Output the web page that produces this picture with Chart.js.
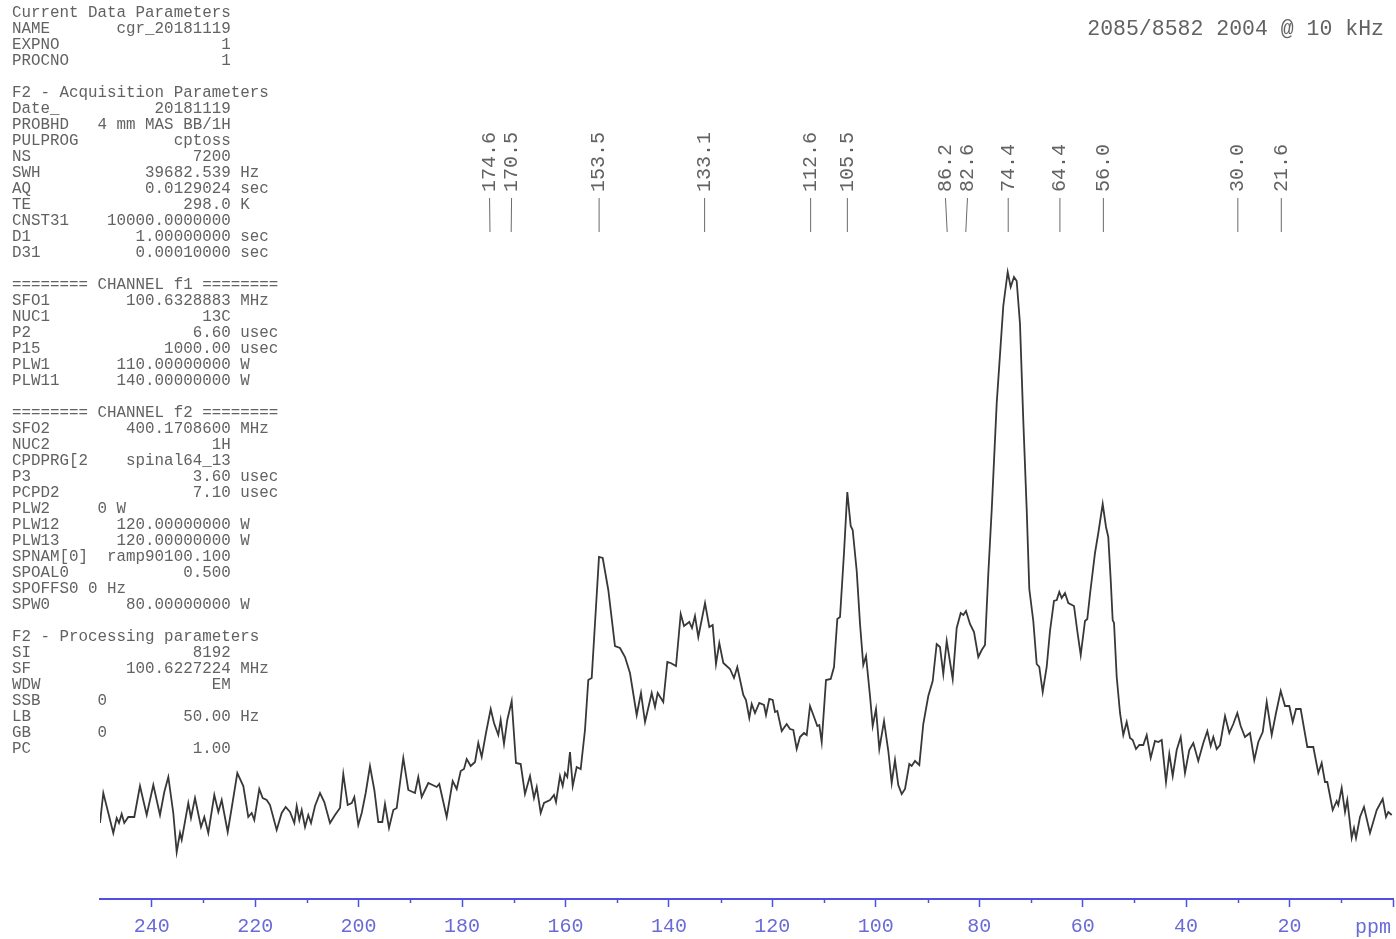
<!DOCTYPE html>
<html>
<head>
<meta charset="utf-8">
<script src="https://cdn.jsdelivr.net/npm/chart.js@4/dist/chart.umd.min.js"></script>
<style>
  html, body { margin: 0; padding: 0; background: #fff; overflow: hidden; }
  canvas { display: block; }
</style>
</head>
<body>
<canvas id="nmr_chart" width="1396" height="939" style="width:1396px;height:939px"></canvas>
<script>
// chemical shift (ppm) and intensity (arbitrary units)
const ppm = [
	250.00,249.36,248.39,247.43,246.77,246.33,245.81,245.30,244.53,243.37,
	242.27,240.97,239.69,238.40,237.57,236.79,235.83,235.17,234.53,234.20,
	232.93,232.41,231.63,230.47,229.83,229.06,227.90,227.12,226.47,225.31,
	224.54,223.45,222.29,221.33,220.67,220.17,219.20,218.54,217.77,217.13,
	215.84,214.87,214.10,213.26,212.43,211.97,211.46,211.00,210.36,209.73,
	209.20,208.43,207.46,206.63,205.53,204.56,203.60,202.96,202.11,201.33,
	200.83,200.06,199.40,198.63,197.80,196.96,196.19,195.42,194.90,194.12,
	193.29,192.63,191.36,190.39,189.10,188.46,187.80,186.52,
	184.90,184.40,182.97,181.81,181.03,180.26,179.62,179.10,178.33,177.49,
	176.86,176.20,175.37,174.46,173.82,172.99,172.53,171.89,171.25,170.40,
	169.57,168.66,167.83,166.86,166.09,165.56,164.79,164.15,162.99,162.22,
	161.83,161.06,160.54,160.09,159.65,159.13,158.60,157.83,157.06,156.23,
	155.59,154.93,154.29,153.52,152.80,151.72,150.43,149.46,148.49,147.53,
	146.23,145.40,144.62,143.33,142.69,142.17,141.09,140.31,139.66,138.63,
	137.72,137.08,136.06,135.54,134.96,134.32,133.02,132.19,131.54,130.90,
	130.26,129.48,128.19,127.42,126.78,125.62,125.10,124.46,123.99,123.36,
	122.53,
	121.62,121.23,120.59,119.93,119.49,119.04,118.19,117.23,116.59,115.95,
	115.29,114.66,113.88,113.36,112.72,112.08,111.31,110.92,110.46,109.63,
	108.72,108.08,107.44,106.92,106.15,105.51,104.85,104.47,103.69,103.05,
	102.42,101.89,101.12,100.60,99.96,99.32,98.41,97.58,96.93,96.29,
	95.65,94.99,94.35,93.52,93.06,92.42,91.59,90.82,89.85,89.00,
	88.23,87.59,86.95,86.29,85.13,84.36,83.58,83.08,82.56,81.79,
	81.01,80.18,79.52,78.89,78.25,77.59,76.62,75.35,74.50,73.92,
	73.28,72.76,72.12,71.48,70.82,70.32,69.55,68.89,68.39,67.73,
	66.96,66.32,65.55,65.02,64.52,64.06,63.42,62.78,61.68,61.04,
	60.38,59.55,59.11,58.58,
	57.62,56.98,56.13,55.49,55.05,54.58,54.20,53.94,53.42,52.78,
	52.15,51.49,50.85,50.33,49.69,49.05,48.28,47.62,46.85,46.02,
	45.38,44.72,43.89,43.25,42.59,41.82,41.05,40.22,39.39,38.61,
	37.65,36.68,35.90,35.25,34.74,34.09,33.45,32.48,31.65,30.88,
	30.10,29.45,28.62,27.65,26.82,26.04,25.19,24.42,23.45,22.62,
	21.71,20.88,20.05,19.39,18.75,17.85,16.57,15.41,14.44,13.79,
	13.15,12.70,11.66,10.89,10.58,9.92,9.28,8.84,7.99,7.54,
	7.15,6.38,5.61,4.45,3.15,1.99,1.35,0.91,0.25
];
const intensity = [
	37,67,47,27,42,37,46,37,43,43,
	74,45,75,45,68,83,47,8,27,20,
	57,42,62,33,43,27,65,48,60,28,
	52,87,74,43,47,40,71,62,60,55,
	30,47,53,48,37,54,40,50,33,45,
	37,54,67,58,37,45,52,86,55,57,
	63,35,47,67,94,70,38,38,56,32,
	50,52,102,70,67,83,63,77,
	73,76,43,79,71,89,91,101,94,98,
	117,103,127,151,137,125,140,116,140,159,
	97,96,66,84,62,73,47,57,60,65,
	58,84,74,87,83,108,74,93,91,130,
	180,182,237,303,302,270,214,212,203,187,
	145,167,138,167,153,167,158,198,197,194,
	246,234,238,232,244,223,257,233,235,196,
	217,197,191,182,193,165,160,142,156,147,
	157,
	155,145,161,160,148,149,129,136,131,130,
	111,123,127,125,154,145,134,135,118,180,
	181,193,241,243,307,368,334,330,289,236,
	195,204,164,134,151,111,139,109,77,100,
	75,66,71,96,94,99,95,136,164,179,
	216,213,186,219,181,232,247,245,249,236,
	228,203,210,215,286,350,457,554,588,573,
	583,579,536,439,350,271,239,196,193,168,
	193,229,259,260,268,262,267,257,254,229,
	205,239,241,266,
	307,327,356,333,323,280,240,237,183,147,
	125,138,122,120,111,115,115,125,102,119,
	118,120,78,106,84,110,123,87,110,117,
	99,117,129,114,123,111,115,144,127,136,
	147,134,123,127,100,118,128,158,125,147,
	169,154,154,138,151,151,113,113,87,97,
	78,78,50,59,55,72,48,60,22,32,
	22,43,53,27,50,61,43,48,45
];

// picked peaks
const peakLabels = [174.6, 170.5, 153.5, 133.1, 112.6, 105.5, 86.2, 82.6, 74.4, 64.4, 56.0, 30.0, 21.6];

// labelled ticks of the ppm axis
const majorTicks = [240, 220, 200, 180, 160, 140, 120, 100, 80, 60, 40, 20];

const stamp = '2085/8582 2004 @ 10 kHz';

function row(name, value, unit) {
	return name + value.padStart(23 - name.length) + (unit ? ' ' + unit : '');
}

const paramLines = [
	'Current Data Parameters',
	row('NAME', 'cgr_20181119'),
	row('EXPNO', '1'),
	row('PROCNO', '1'),
	'',
	'F2 - Acquisition Parameters',
	row('Date_', '20181119'),
	row('PROBHD', '4 mm MAS BB/1H'),
	row('PULPROG', 'cptoss'),
	row('NS', '7200'),
	row('SWH', '39682.539', 'Hz'),
	row('AQ', '0.0129024', 'sec'),
	row('TE', '298.0', 'K'),
	row('CNST31', '10000.0000000'),
	row('D1', '1.00000000', 'sec'),
	row('D31', '0.00010000', 'sec'),
	'',
	'======== CHANNEL f1 ========',
	row('SFO1', '100.6328883', 'MHz'),
	row('NUC1', '13C'),
	row('P2', '6.60', 'usec'),
	row('P15', '1000.00', 'usec'),
	row('PLW1', '110.00000000', 'W'),
	row('PLW11', '140.00000000', 'W'),
	'',
	'======== CHANNEL f2 ========',
	row('SFO2', '400.1708600', 'MHz'),
	row('NUC2', '1H'),
	row('CPDPRG[2', 'spinal64_13'),
	row('P3', '3.60', 'usec'),
	row('PCPD2', '7.10', 'usec'),
	'PLW2     0 W',
	row('PLW12', '120.00000000', 'W'),
	row('PLW13', '120.00000000', 'W'),
	row('SPNAM[0]', 'ramp90100.100'),
	row('SPOAL0', '0.500'),
	'SPOFFS0 0 Hz',
	row('SPW0', '80.00000000', 'W'),
	'',
	'F2 - Processing parameters',
	row('SI', '8192'),
	row('SF', '100.6227224', 'MHz'),
	row('WDW', 'EM'),
	'SSB      0',
	row('LB', '50.00', 'Hz'),
	'GB       0',
	row('PC', '1.00')
];

const MONO = "'Liberation Mono', 'DejaVu Sans Mono', monospace";
const axisBlue = '#4f4fe0';
const labelBlue = '#6a6ad8';
const textGrey = '#626262';

//텍스트, 피크 라벨, 보조 눈금
const annotate = {
	id: 'annotate',
	afterDraw(chart) {
		const ctx = chart.ctx;
		const xs = chart.scales.x;
		const area = chart.chartArea;
		ctx.save();

		ctx.fillStyle = textGrey;
		ctx.font = '15.85px ' + MONO;
		ctx.textAlign = 'left';
		ctx.textBaseline = 'middle';
		paramLines.forEach((t, i) => ctx.fillText(t, 12, 13 + 16 * i));

		ctx.font = '21.5px ' + MONO;
		ctx.textAlign = 'right';
		ctx.fillText(stamp, 1384, 29);

		// minor ticks
		ctx.strokeStyle = axisBlue;
		ctx.lineWidth = 1.5;
		for (let v = 10; v < 240; v += 20) {
			const x = Math.round(xs.getPixelForValue(v)) + 0.5;
			ctx.beginPath();
			ctx.moveTo(x, area.bottom);
			ctx.lineTo(x, area.bottom + 4);
			ctx.stroke();
		}

		ctx.fillStyle = labelBlue;
		ctx.font = '20px ' + MONO;
		ctx.textAlign = 'right';
		ctx.fillText('ppm', xs.getPixelForValue(0) - 2, 928);

		// peak labels, pushed apart when too close
		const peakX = peakLabels.map(p => xs.getPixelForValue(p));
		const textX = peakX.slice();
		const minGap = 22;
		for (let i = 1; i < textX.length; i++) {
			const gap = textX[i] - textX[i - 1];
			if (gap < minGap) {
				const push = (minGap - gap) / 2;
				textX[i - 1] -= push;
				textX[i] += push;
			}
		}
		ctx.strokeStyle = '#6a6a6a';
		ctx.lineWidth = 1;
		ctx.fillStyle = textGrey;
		ctx.font = '20px ' + MONO;
		ctx.textAlign = 'left';
		ctx.textBaseline = 'middle';
		peakLabels.forEach((p, i) => {
			ctx.beginPath();
			ctx.moveTo(textX[i], 198);
			ctx.lineTo(peakX[i], 232);
			ctx.stroke();
			ctx.save();
			ctx.translate(textX[i], 192);
			ctx.rotate(-Math.PI / 2);
			ctx.fillText(p.toFixed(1), 0, 0);
			ctx.restore();
		});

		ctx.restore();
	}
};

const points = ppm.map((p, i) => ({ x: p, y: intensity[i] }));

const ctx = document.getElementById('nmr_chart').getContext('2d');
const nmr_chart = new Chart(ctx, {
	type: 'line',
	data: {
		datasets: [{
			data: points,
			borderColor: '#383838',
			borderWidth: 1.8,
			pointRadius: 0,
			tension: 0,
			fill: false
		}]
	},
	options: {
		responsive: false,
		animation: false,
		devicePixelRatio: 1,
		layout: {
			padding: { left: 100, right: 3, top: 260, bottom: -8 }
		},
		plugins: {
			legend: { display: false },
			tooltip: { enabled: false }
		},
		scales: {
			x: {
				type: 'linear',
				min: 0,
				max: 250,
				reverse: true,
				afterFit: s => { s.paddingLeft = 0; s.paddingRight = 0; },
				border: { display: true, color: axisBlue, width: 2 },
				grid: {
					display: true,
					drawOnChartArea: false,
					drawTicks: true,
					tickLength: 8,
					tickWidth: 1.5,
					tickColor: c => (c.tick && c.tick.value % 20 === 0) ? axisBlue : 'rgba(0,0,0,0)'
				},
				ticks: {
					stepSize: 10,
					autoSkip: false,
					maxRotation: 0,
					padding: 8,
					color: labelBlue,
					font: { family: MONO, size: 20, lineHeight: 1.2 },
					callback: v => majorTicks.includes(v) ? String(v) : ''
				}
			},
			y: {
				display: false,
				min: -39,
				max: 600
			}
		}
	},
	plugins: [annotate]
});
</script>
</body>
</html>
